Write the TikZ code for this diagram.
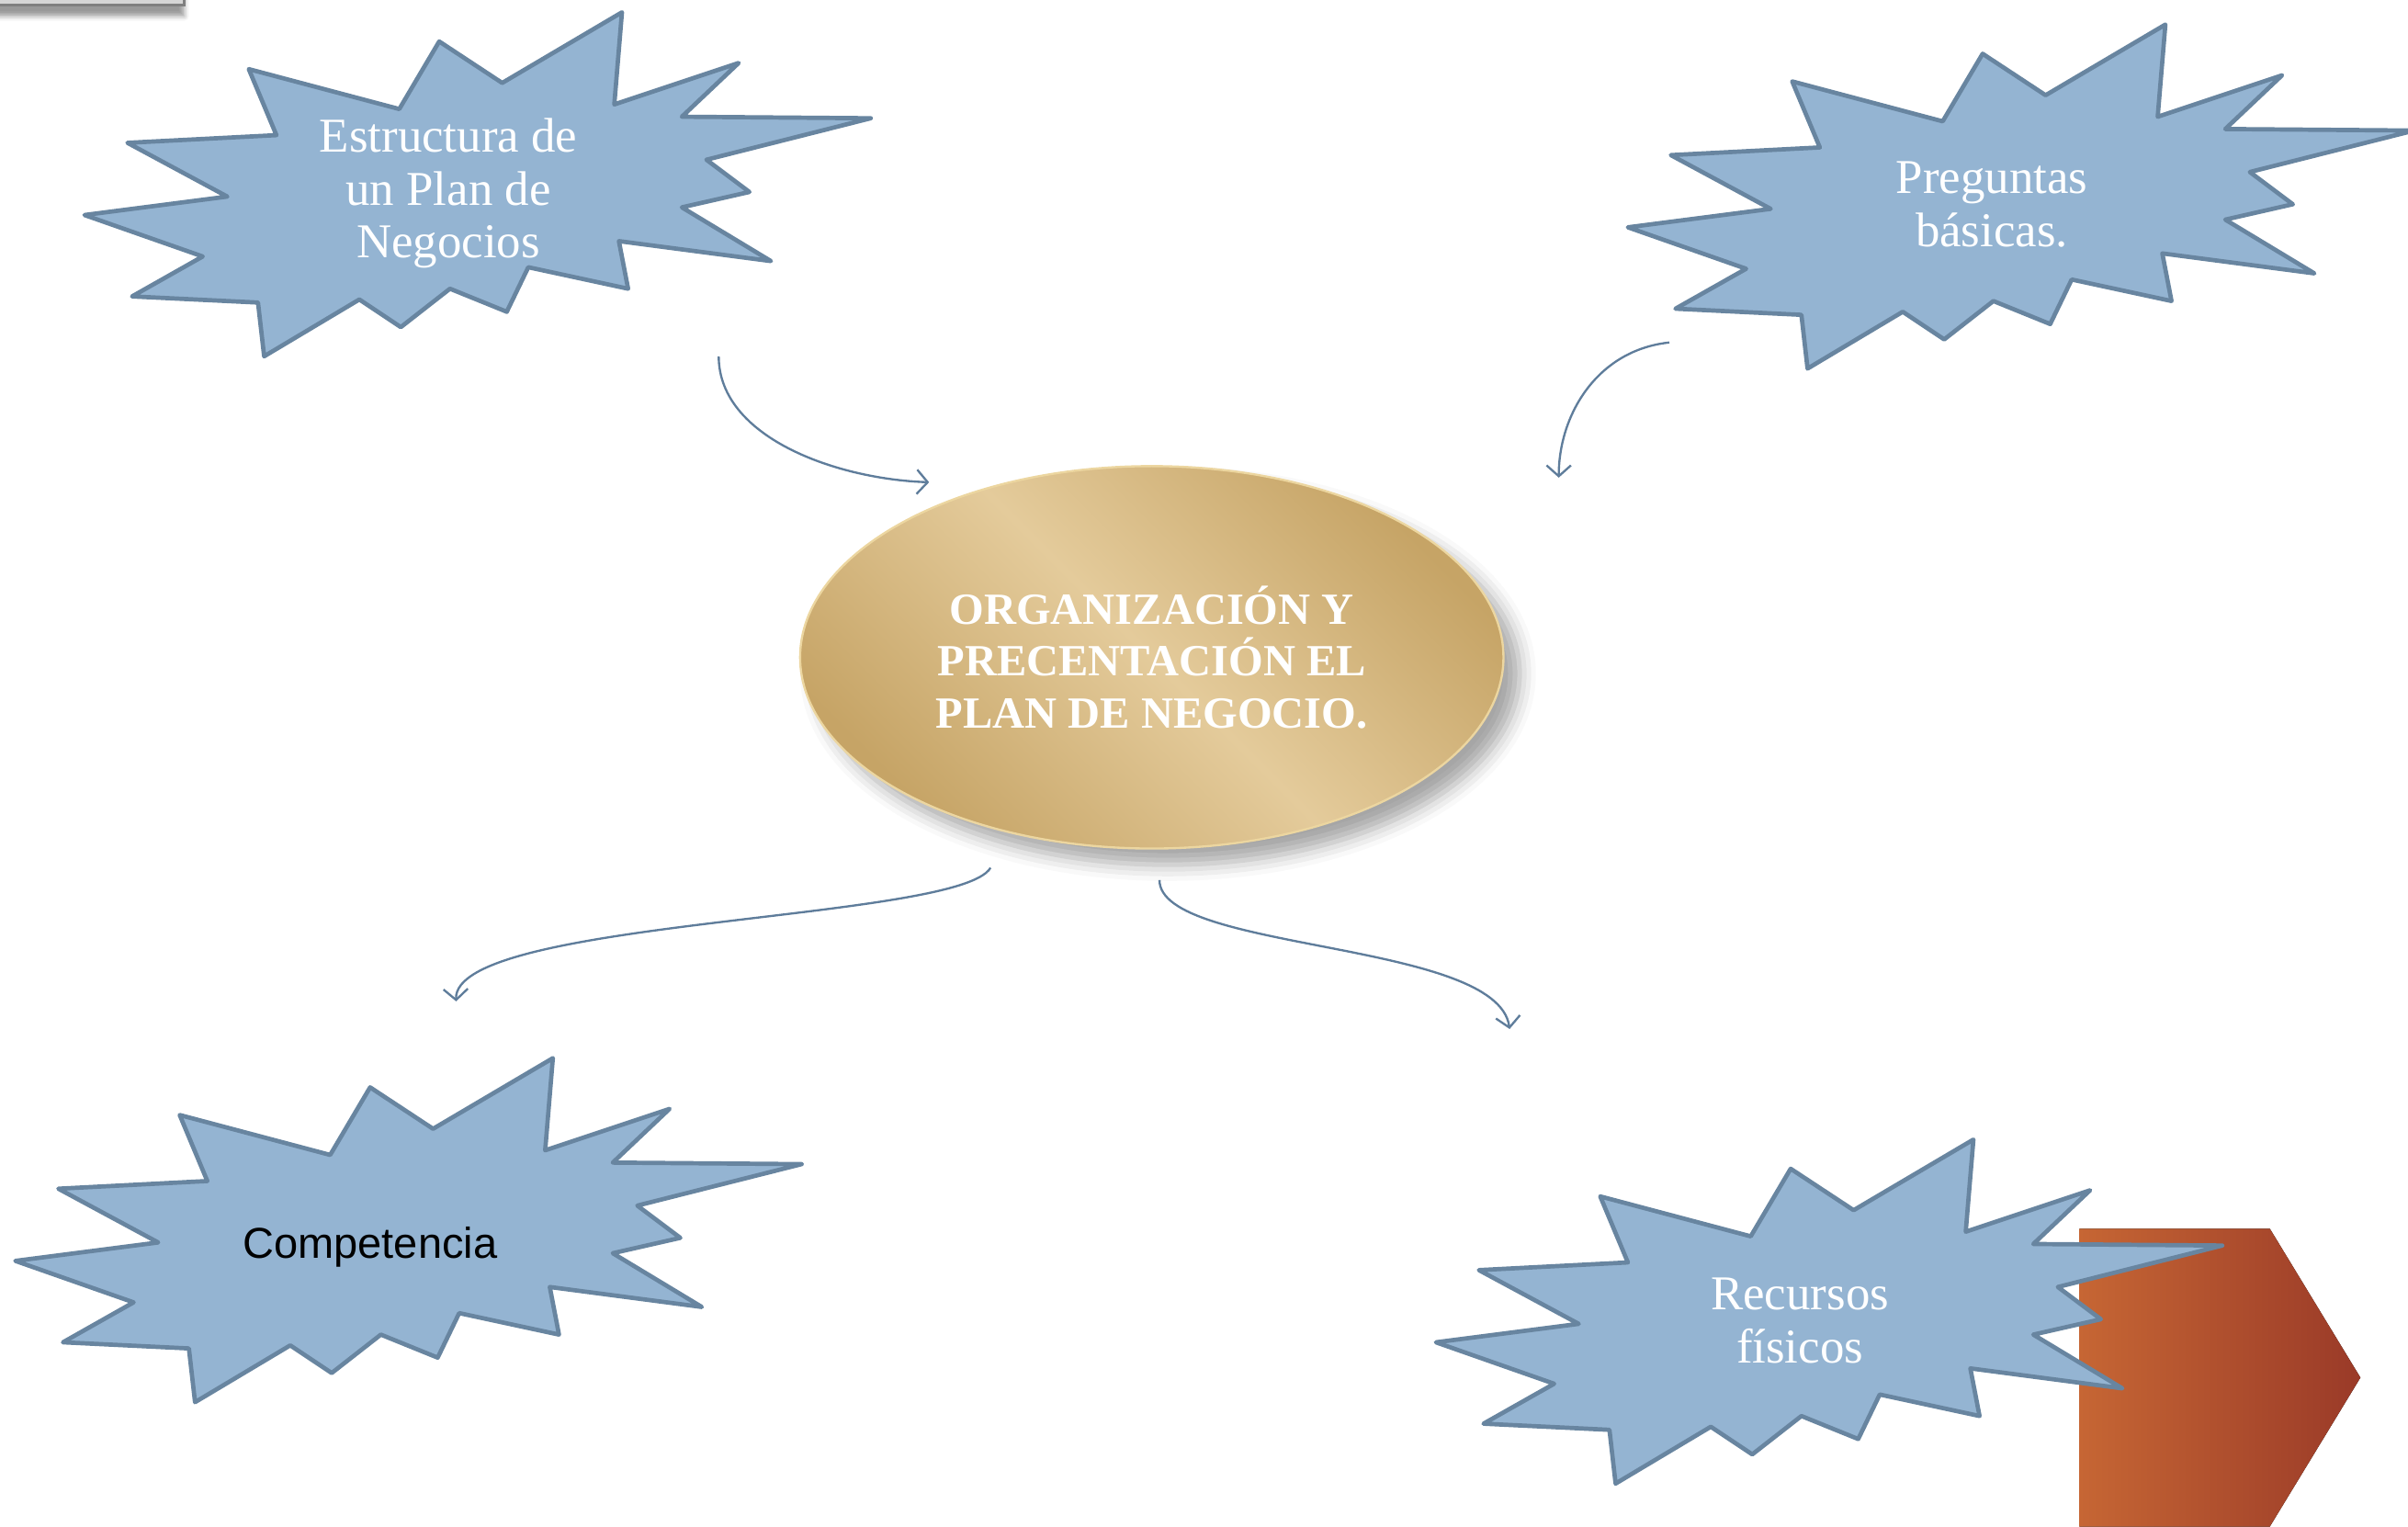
\documentclass[tikz,border=0pt]{standalone}
\usepackage{fontspec}
\setmainfont{Liberation Serif}
\setsansfont{Liberation Sans}
\usepackage{tikz}
\usetikzlibrary{arrows.meta, shapes.geometric, shadows.blur}
\definecolor{burstfill}{RGB}{148,180,210}
\definecolor{burstline}{RGB}{104,133,160}
\definecolor{linkblue}{RGB}{95,125,155}
\definecolor{golddark}{RGB}{198,164,102}
\definecolor{goldlight}{RGB}{228,203,155}
\definecolor{goldrim}{RGB}{236,214,160}
\definecolor{brickleft}{RGB}{198,102,52}
\definecolor{brickright}{RGB}{154,58,40}
\definecolor{boxgray}{RGB}{214,214,214}
\definecolor{boxline}{RGB}{128,128,128}

\tikzset{
  burst/.style={fill=burstfill, draw=burstline, line width=1.6pt, line join=round},
  bursttext/.style={text=white, align=center, font=\fontsize{18}{19.6}\selectfont},
  link/.style={draw=linkblue, line width=0.8pt, -{Straight Barb[length=4pt, width=9pt]}},
}

% explosion outline, top-left corner of its box at (#1,#2)
\newcommand{\burstat}[2]{%
  \draw[burst, shift={(#1,#2)}] (0,132) -- (93,120) -- (28,85) -- (125,80) -- (107,37)
    -- (205,63) -- (231,19) -- (272,46) -- (350,0) -- (345,60) -- (426,33) -- (389,68)
    -- (512,69) -- (405,96) -- (433,117) -- (389,127) -- (447,162) -- (348,149)
    -- (354,180) -- (289,166) -- (275,195) -- (238,180) -- (206,205) -- (179,187)
    -- (117,224) -- (113,189) -- (31,185) -- (77,159) -- cycle;}

\begin{document}
\begin{tikzpicture}[x=0.2mm, y=-0.2mm]
    \useasboundingbox (0,0) rectangle (1568,994);

    % leftover frame in the corner
    \draw[fill=boxgray, draw=boxline, line width=1pt, blur shadow={shadow xshift=0pt, shadow yshift=-4pt}] (-20,-40) rectangle (120,3.5);

    % outer ideas
    \burstat{55}{8}
    \node[bursttext] (estr) at (292,126) {Estructura de\\un Plan de\\Negocios};

    \burstat{1060}{16}
    \node[bursttext] (preg) at (1297,133) {Preguntas\\básicas.};

    \burstat{10}{689}
    \node[font=\sffamily\fontsize{16}{19.6}\selectfont] (comp) at (241,812) {Competencia};

    \fill[left color=brickleft, right color=brickright] (1354,800) -- (1478,800) -- (1537,897) -- (1478,994) -- (1354,994) -- cycle;

    \burstat{935}{742}
    \node[bursttext] (recu) at (1172,860) {Recursos\\físicos};

    % centre
    \node[ellipse, minimum width=91.6mm, minimum height=49.8mm, inner sep=0pt,
      top color=golddark, bottom color=golddark, middle color=goldlight, shading angle=-45,
      draw=goldrim, line width=0.8pt,
      blur shadow={shadow xshift=6pt, shadow yshift=-6pt, shadow opacity=35, shadow blur radius=6pt},
      text=white, align=center, font=\bfseries\fontsize{16.5}{19.3}\selectfont]
      (org) at (750,428) {ORGANIZACIÓN Y\\PRECENTACIÓN EL\\PLAN DE NEGOCIO.};

    % connectors
    \coordinate (estr-out) at (468,232);
    \coordinate (org-in-l) at (605,314);
    \coordinate (preg-out) at (1087,223);
    \coordinate (org-in-r) at (1015,311);
    \coordinate (org-out-l) at (645,565);
    \coordinate (comp-in) at (297,652);
    \coordinate (org-out-r) at (755,573);
    \coordinate (recu-in) at (983,670);

    \draw[link] (estr-out) .. controls (468,285) and (545,312) .. (org-in-l);
    \draw[link] (preg-out) .. controls (1040,228) and (1015,270) .. (org-in-r);
    \draw[link] (org-out-l) .. controls (625,600) and (295,598) .. (comp-in);
    \draw[link] (org-out-r) .. controls (755,620) and (975,612) .. (recu-in);
\end{tikzpicture}
\end{document}
